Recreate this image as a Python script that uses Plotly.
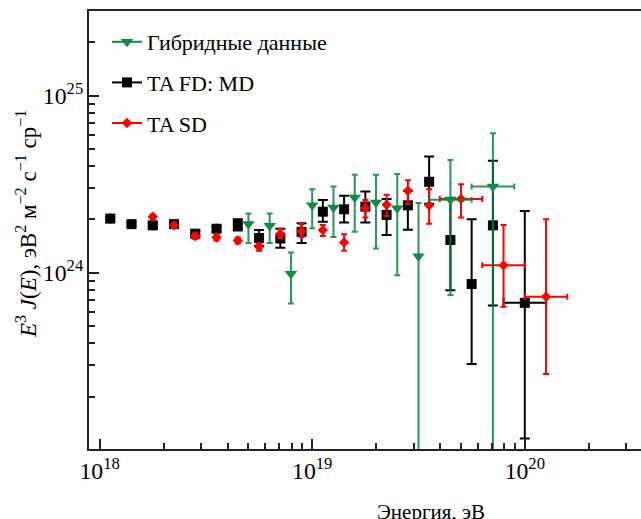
import plotly.graph_objects as go

# ---- data (log10 of energy in eV; flux in units of 1e24 eV^2 m^-2 s^-1 sr^-1) ----
lgE_md = [18.05, 18.15, 18.25, 18.35, 18.45, 18.55, 18.65, 18.75, 18.85, 18.95,
          19.05, 19.15, 19.25, 19.35, 19.45, 19.55, 19.65, 19.75, 19.85, 20.0]
J_md = [2.02, 1.88, 1.85, 1.88, 1.66, 1.77, 1.86, 1.57, 1.56, 1.70,
        2.21, 2.28, 2.36, 2.12, 2.40, 3.26, 1.53, 0.863, 1.85, 0.676]
hi_md = [2.07, 1.93, 1.90, 1.93, 1.71, 1.83, 2.00, 1.74, 1.77, 1.90,
         2.57, 2.72, 2.87, 2.61, 2.90, 4.53, 2.65, 2.00, 4.28, 2.23]
lo_md = [1.97, 1.83, 1.80, 1.83, 1.61, 1.71, 1.73, 1.42, 1.385, 1.47,
         1.94, 1.92, 1.92, 1.63, 1.75, 2.45, 0.795, 0.305, 0.652, 0.116]
xlo_md = [None] * 19 + [19.9]
xhi_md = [None] * 19 + [20.1]

lgE_sd = [18.25, 18.35, 18.45, 18.55, 18.65, 18.75, 18.85, 18.95, 19.05, 19.15,
          19.25, 19.35, 19.45, 19.55, 19.7, 19.9, 20.1]
J_sd = [2.07, 1.85, 1.61, 1.58, 1.52, 1.40, 1.66, 1.71, 1.74, 1.48,
        2.31, 2.42, 2.90, 2.40, 2.61, 1.10, 0.731]
hi_sd = [2.13, 1.91, 1.67, 1.64, 1.58, 1.46, 1.77, 1.88, 1.86, 1.65,
         2.57, 2.75, 3.33, 2.96, 3.16, 1.86, 2.00]
lo_sd = [2.01, 1.79, 1.55, 1.52, 1.46, 1.33, 1.57, 1.59, 1.61, 1.33,
         2.05, 2.09, 2.44, 1.89, 2.05, 0.643, 0.268]
xlo_sd = [None] * 14 + [19.6, 19.8, 20.0]
xhi_sd = [None] * 14 + [19.8, 20.0, 20.2]

lgE_hy = [18.7, 18.8, 18.9, 19.0, 19.1, 19.2, 19.3, 19.4, 19.5, 19.65, 19.85]
J_hy = [1.88, 1.84, 0.987, 2.40, 2.33, 2.66, 2.49, 2.31, 1.24, 2.58, 3.07]
hi_hy = [2.16, 2.16, 1.30, 2.96, 3.07, 3.57, 3.57, 3.61, 2.47, 4.33, 6.12]
lo_hy = [1.47, 1.47, 0.671, 1.78, 1.59, 1.70, 1.37, 0.966, 0.01, 0.748, 0.01]
xlo_hy = [None] * 9 + [19.55, 19.75]
xhi_hy = [None] * 9 + [19.75, 19.95]

names = ["Гибридные данные", "TA FD: MD", "TA SD"]
x_title = "Энергия, эВ"
y_title = ("<i>E</i><sup>3</sup> <i>J</i>(<i>E</i>), эВ<sup>2</sup> м<sup>−2</sup> "
           "с<sup>−1</sup> ср<sup>−1</sup>")

SCALE = 1e24
FONT = "Liberation Serif, Times New Roman, serif"


def build(lg, J, hi, lo, xlo, xhi):
    E = [10 ** v for v in lg]
    y = [j * SCALE for j in J]
    yp = [(h - j) * SCALE for h, j in zip(hi, J)]
    ym = [(j - l) * SCALE for j, l in zip(J, lo)]
    xp = [None if b is None else 10 ** b - e for b, e in zip(xhi, E)]
    xm = [None if a is None else e - 10 ** a for a, e in zip(xlo, E)]
    return E, y, yp, ym, xp, xm


fig = go.Figure()

GREEN = "rgba(2,132,61,0.85)"
GREEN_M = "rgb(16,138,70)"
RED = "#ff0000"
BLACK = "#000000"

specs = [
    (lgE_md, J_md, hi_md, lo_md, xlo_md, xhi_md, BLACK, BLACK, "square", 10, 5, names[1]),
    (lgE_sd, J_sd, hi_sd, lo_sd, xlo_sd, xhi_sd, RED, RED, "diamond", 8, 3, names[2]),
    (lgE_hy, J_hy, hi_hy, lo_hy, xlo_hy, xhi_hy, GREEN, GREEN_M, "triangle-down", 11, 3, names[0]),
]
for lg, J, hi, lo, xlo, xhi, lc, mc, sym, sz, cap, nm in specs:
    E, y, yp, ym, xp, xm = build(lg, J, hi, lo, xlo, xhi)
    fig.add_trace(go.Scatter(
        x=E, y=y, mode="markers", showlegend=False, name=nm,
        marker=dict(symbol=sym, size=sz, color=mc, line=dict(width=0)),
        error_y=dict(type="data", array=yp, arrayminus=ym, symmetric=False,
                     color=lc, thickness=2, width=cap),
        error_x=dict(type="data", array=xp, arrayminus=xm, symmetric=False,
                     color=lc, thickness=2, width=cap),
    ))

# legend entries (line + marker), order: hybrid, MD, SD
leg = [(names[0], GREEN_M, "triangle-down", 11),
       (names[1], BLACK, "square", 10),
       (names[2], RED, "diamond", 8)]
for i, (nm, c, sym, sz) in enumerate(leg):
    fig.add_trace(go.Scatter(
        x=[None], y=[None], mode="lines+markers", name=nm, legendgroup=f"g{i}",
        line=dict(color=c, width=2),
        marker=dict(symbol=sym, size=sz, color=c),
    ))

W, H = 641, 519
L, R, T, B = 89, 0, 11, 70
pw, ph = W - L - R, H - T - B

fig.update_layout(
    width=W, height=H,
    margin=dict(l=L, r=R, t=T, b=B),
    paper_bgcolor="white", plot_bgcolor="white",
    font=dict(family=FONT, size=19, color="black"),
    legend=dict(x=(107 - L) / pw, y=1 - (21 - T) / ph, xanchor="left", yanchor="top",
                bgcolor="rgba(0,0,0,0)", font=dict(family=FONT, size=22, color="black"),
                tracegroupgap=9, itemwidth=30),
    annotations=[
        dict(text=x_title, xref="paper", yref="paper",
             x=(431 - L) / pw, y=-(512 - (T + ph)) / ph,
             xanchor="center", yanchor="middle", showarrow=False,
             font=dict(family=FONT, size=21, color="black")),
        dict(text=y_title, xref="paper", yref="paper",
             x=(27 - L) / pw, y=((T + ph) - 224) / ph, textangle=-90,
             xanchor="center", yanchor="middle", showarrow=False,
             font=dict(family=FONT, size=23, color="black")),
    ],
)

fig.update_xaxes(
    type="log", range=[17.950, 20.5466], dtick=1, exponentformat="power",
    showgrid=False, zeroline=False,
    showline=True, linecolor="#222", linewidth=2, mirror=True,
    ticks="inside", ticklen=10, tickwidth=2, tickcolor="#222",
    tickfont=dict(family=FONT, size=19, color="black"),
    minor=dict(ticks="inside", ticklen=6, tickwidth=1.5, tickcolor="#222",
               dtick="D1", showgrid=False),
)
fig.update_yaxes(
    type="log", range=[23.005, 25.477], dtick=1, exponentformat="power",
    showgrid=False, zeroline=False,
    showline=True, linecolor="#222", linewidth=2, mirror=False,
    ticks="inside", ticklen=10, tickwidth=2, tickcolor="#222",
    tickfont=dict(family=FONT, size=19, color="black"),
    minor=dict(ticks="inside", ticklen=6, tickwidth=1.5, tickcolor="#222",
               dtick="D1", showgrid=False),
)

fig.write_html(
    "out.html",
    config={"displayModeBar": False},
    post_script="document.body.style.margin='0';document.body.style.overflow='hidden';",
)
